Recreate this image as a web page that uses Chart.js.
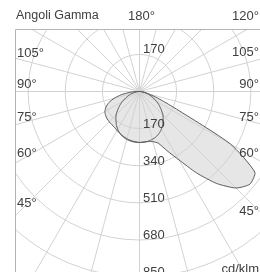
<!DOCTYPE html>
<html>
<head>
<meta charset="UTF-8">
<title>Angoli Gamma</title>
<script src="https://cdn.jsdelivr.net/npm/chart.js@4.4.0/dist/chart.umd.min.js"></script>
<style>
html, body { margin:0; padding:0; background:#fff; }
</style>
</head>
<body>
<canvas id="myChart" width="260" height="272"></canvas>
<script>
// gamma angles in degrees, 0 = straight down
var gammaAngles = [0,5,10,15,20,25,30,35,40,45,50,55,60,65,70,75,80,85,90];
// C90 / C270 plane (big lobe to the right), cd/klm
var c90Values  = [233,232,233,238,252,300,362,455,550,625,660,645,480,175,88,45,22,10,3];
var c270Values = [233,231,228,224,218,212,206,200,198,196,194,190,183,170,150,120,85,45,15];
// C0 / C180 plane (small round lobe)
var c0Values   = [234,233,231,227,221,212,200,185,168,152,130,110,90,70,52,36,22,10,3];
var c180Values = [234,233,231,227,221,212,200,185,168,152,130,110,90,70,52,36,22,10,3];

var ringTicks = [170,340,510,680,850,1020];
var spokeStep = 15;
var sideLabels = ['105°','90°','75°','60°','45°'];
var topLabels = ['180°','120°'];
var unitLabel = 'cd/klm';

// layout (pixels)
var boxLeft = 15, boxTop = 29, W = 260, H = 272;
var centerX = 139.5, centerY = 91.5;
var pxPerUnit = 148.5 / 680;
var leftLabelY = [53, 84, 117, 153, 203];
var rightLabelY = [52, 84, 117, 153, 211];

function toRad(d) { return d * Math.PI / 180; }

// closed outline: left half (gamma 90 -> 0) then right half (0 -> 90)
function polarPoints(leftVals, rightVals) {
	var pts = [{x:0, y:0}];
	for (var i = gammaAngles.length - 1; i >= 0; i--) {
		var g = toRad(gammaAngles[i]);
		pts.push({x: -leftVals[i] * Math.sin(g), y: -leftVals[i] * Math.cos(g)});
	}
	for (var j = 1; j < gammaAngles.length; j++) {
		var g2 = toRad(gammaAngles[j]);
		pts.push({x: rightVals[j] * Math.sin(g2), y: -rightVals[j] * Math.cos(g2)});
	}
	pts.push({x:0, y:0});
	return pts;
}

var polarGrid = {
	id: 'polarGrid',
	beforeDatasetsDraw: function(chart) {
		var ctx = chart.ctx, a = chart.chartArea;
		var xs = chart.scales.x, ys = chart.scales.y;
		var cx = xs.getPixelForValue(0), cy = ys.getPixelForValue(0);
		var unit = xs.getPixelForValue(1) - cx;
		ctx.save();
		ctx.beginPath();
		ctx.rect(a.left, a.top, a.right - a.left, a.bottom - a.top);
		ctx.clip();
		ctx.strokeStyle = '#d2d2d2';
		ctx.lineWidth = 1;
		ringTicks.forEach(function(v) {
			ctx.beginPath();
			ctx.arc(cx, cy, v * unit, 0, 2 * Math.PI);
			ctx.stroke();
		});
		for (var g = 0; g < 360; g += spokeStep) {
			var r = 2000 * unit;
			ctx.beginPath();
			ctx.moveTo(cx, cy);
			ctx.lineTo(cx + r * Math.sin(toRad(g)), cy + r * Math.cos(toRad(g)));
			ctx.stroke();
		}
		ctx.restore();
		// frame on the left and top
		ctx.save();
		ctx.strokeStyle = '#b4b4b4';
		ctx.lineWidth = 1;
		ctx.beginPath();
		ctx.moveTo(a.left + 0.5, a.bottom);
		ctx.lineTo(a.left + 0.5, a.top + 0.5);
		ctx.lineTo(a.right, a.top + 0.5);
		ctx.stroke();
		ctx.restore();
	},
	afterDraw: function(chart) {
		var ctx = chart.ctx;
		var xs = chart.scales.x, ys = chart.scales.y;
		var cx = xs.getPixelForValue(0), cy = ys.getPixelForValue(0);
		var unit = xs.getPixelForValue(1) - cx;
		ctx.save();
		ctx.fillStyle = '#404040';
		ctx.font = '12.5px "Liberation Sans", Arial, sans-serif';
		ctx.textBaseline = 'middle';
		ctx.textAlign = 'left';
		ctx.fillText('Angoli Gamma', 16, 16);
		ctx.font = '13px "Liberation Sans", Arial, sans-serif';
		ctx.textAlign = 'center';
		ctx.fillText(topLabels[0], cx + 2, 16);
		ctx.textAlign = 'right';
		ctx.fillText(topLabels[1], 259, 16);
		for (var i = 0; i < sideLabels.length; i++) {
			ctx.textAlign = 'left';
			ctx.fillText(sideLabels[i], 17, leftLabelY[i]);
			ctx.textAlign = 'right';
			ctx.fillText(sideLabels[i], 259, rightLabelY[i]);
		}
		// ring values
		ctx.textAlign = 'left';
		ctx.textBaseline = 'alphabetic';
		ctx.fillText(String(ringTicks[0]), cx + 3.5, cy - ringTicks[0] * unit - 1);
		for (var k = 0; k < 5; k++) {
			ctx.fillText(String(ringTicks[k]), cx + 3.5, cy + ringTicks[k] * unit - 1);
		}
		ctx.textAlign = 'right';
		ctx.fillText(unitLabel, 259, 273);
		ctx.restore();
	}
};

var ctx = document.getElementById('myChart').getContext('2d');
var myChart = new Chart(ctx, {
	type: 'scatter',
	data: {
		datasets: [{
			data: polarPoints(c270Values, c90Values),
			showLine: true,
			fill: 'shape',
			backgroundColor: '#e6e6e6',
			borderColor: '#5a5a5a',
			borderWidth: 1,
			pointRadius: 0,
			tension: 0.2
		}, {
			data: polarPoints(c180Values, c0Values),
			showLine: true,
			fill: 'shape',
			backgroundColor: '#e6e6e6',
			borderColor: '#5a5a5a',
			borderWidth: 1,
			pointRadius: 0,
			tension: 0.2
		}]
	},
	options: {
		responsive: false,
		animation: false,
		layout: { padding: { left: boxLeft, top: boxTop, right: 0, bottom: 0 } },
		scales: {
			x: { display: false, min: -(centerX - boxLeft) / pxPerUnit, max: (W - centerX) / pxPerUnit },
			y: { display: false, min: -(H - centerY) / pxPerUnit, max: (centerY - boxTop) / pxPerUnit }
		},
		plugins: {
			legend: { display: false },
			tooltip: { enabled: false },
			filler: { drawTime: 'beforeDraw' }
		}
	},
	plugins: [polarGrid]
});
</script>
</body>
</html>
